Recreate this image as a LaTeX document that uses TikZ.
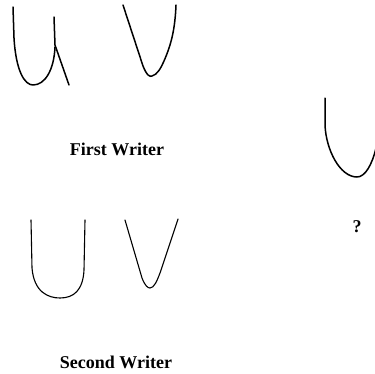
\documentclass[tikz,border=0pt]{standalone}
\usepackage{fontspec}
\setmainfont{Liberation Serif}
\begin{document}
\begin{tikzpicture}[x=1pt,y=-1pt,
  thick stroke/.style={line width=1.5pt,line cap=round,line join=round},
  thin stroke/.style={line width=1.1pt,line cap=round,line join=round},
  caption/.style={font=\fontsize{18}{20}\selectfont\bfseries,inner sep=0pt}]
\useasboundingbox (0,0) rectangle (375,373);
% First writer
\draw[thick stroke] (13,7) -- (14,38) .. controls (16,72) and (25,85) .. (33,85)
  .. controls (45,85) and (54,70) .. (55,47);
\draw[thick stroke] (54,17) -- (55,45) -- (69,85);
\draw[thick stroke] (123,5) -- (143,66) .. controls (147,76) and (150,77) .. (152,76)
  .. controls (157,75) and (161,68) .. (164,61) .. controls (171,45) and (175,30) .. (176,5);
\node[caption] (w1) at (117,149) {First Writer};
% Second writer
\draw[thin stroke] (31,220) -- (32,268) .. controls (34,292) and (48,298) .. (60,298)
  .. controls (74,298) and (83,290) .. (84,270) -- (85,220);
\draw[thin stroke] (125,220) -- (142,278) .. controls (145,286) and (148,288) .. (150,288)
  .. controls (154,288) and (157,281) .. (160,273) -- (178,219);
\node[caption] (w2) at (116,362) {Second Writer};
% Unknown
\draw[thick stroke] (325,98) -- (325,125) .. controls (326,150) and (340,177) .. (357,177)
  .. controls (365,177) and (372,165) .. (376,148);
\node[caption] (q) at (357,227) {?};
\end{tikzpicture}
\end{document}
